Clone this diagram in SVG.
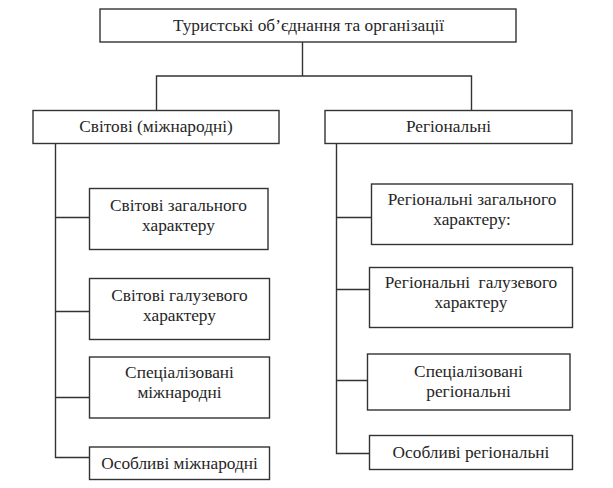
<svg xmlns="http://www.w3.org/2000/svg" width="613" height="488" viewBox="0 0 613 488">
<style>
.box{fill:#fff;stroke:#333;stroke-width:1.4}
.ln{fill:none;stroke:#333;stroke-width:1.4}
.t{font-family:'Liberation Serif','Times New Roman',serif;font-size:17.3px;fill:#262626;text-anchor:middle}
</style>
<rect width="613" height="488" fill="#fff"/>
<g id="connectors">
<path class="ln" d="M302.5 42V76M156.5 110.5V76H471.5V110.5"/>
<path class="ln" d="M55.5 143.5V457.5H89.5M55.5 217.5H89.5M55.5 311.5H89.5M55.5 397.5H89.5"/>
<path class="ln" d="M336.5 143.5V453.5H369.5M336.5 217.5H371.5M336.5 289.5H369.5M336.5 380.5H367.5"/>
</g>
<g id="root"><rect class="box" x="100" y="9" width="416" height="33"/><text class="t" x="308.5" y="31">Туристські об’єднання та організації</text></g>
<g id="world"><rect class="box" x="33" y="110.5" width="246" height="33"/><text class="t" x="156" y="132">Світові (міжнародні)</text></g>
<g id="regional"><rect class="box" x="325" y="110.5" width="247" height="33"/><text class="t" x="448.5" y="132">Регіональні</text></g>
<g id="world-general"><rect class="box" x="89.5" y="188.5" width="178.5" height="61"/><text class="t" x="178.5" y="210.5">Світові загального</text><text class="t" x="178.5" y="230.5">характеру</text></g>
<g id="world-branch"><rect class="box" x="89.5" y="278.5" width="180" height="61"/><text class="t" x="179.5" y="300.5">Світові галузевого</text><text class="t" x="179.5" y="320.5">характеру</text></g>
<g id="world-special"><rect class="box" x="89.5" y="357" width="180" height="61"/><text class="t" x="179.5" y="378">Спеціалізовані</text><text class="t" x="179.5" y="398">міжнародні</text></g>
<g id="world-particular"><rect class="box" x="89.5" y="447" width="180" height="32.5"/><text class="t" x="179.5" y="468.5">Особливі міжнародні</text></g>
<g id="reg-general"><rect class="box" x="371.5" y="184" width="201" height="60.5"/><text class="t" x="472" y="204.5">Регіональні загального</text><text class="t" x="472" y="224.5">характеру:</text></g>
<g id="reg-branch"><rect class="box" x="369.5" y="267.5" width="203" height="60"/><text class="t" x="471" y="287.5" xml:space="preserve">Регіональні  галузевого</text><text class="t" x="471" y="307.5">характеру</text></g>
<g id="reg-special"><rect class="box" x="367.5" y="354" width="202.5" height="56"/><text class="t" x="468.5" y="376.5">Спеціалізовані</text><text class="t" x="468.5" y="396.5">регіональні</text></g>
<g id="reg-particular"><rect class="box" x="369.5" y="435.5" width="203" height="34"/><text class="t" x="471" y="457.5">Особливі регіональні</text></g>
</svg>
